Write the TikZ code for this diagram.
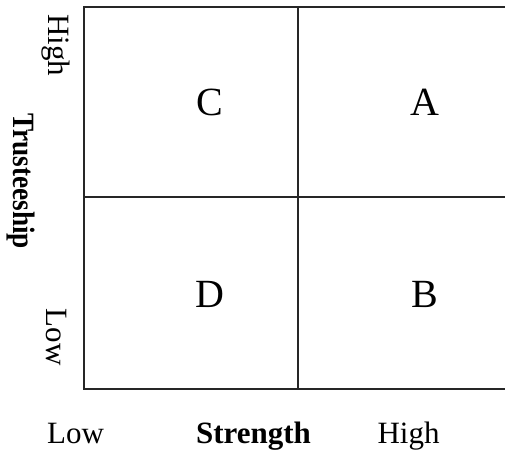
\documentclass[tikz,border=0pt]{standalone}
\usepackage{fontspec}
\setmainfont{Liberation Serif}
\begin{document}
\begin{tikzpicture}[x=1pt,y=-1pt,
  gridline/.style={line width=1.9pt,draw=black!85},
  quad/.style={font=\fontsize{40}{42}\selectfont,inner sep=0pt},
  axlab/.style={font=\fontsize{31}{33}\selectfont,inner sep=0pt,anchor=base},
  axtitle/.style={font=\fontsize{31}{33}\selectfont\bfseries,inner sep=0pt,anchor=base}]
\useasboundingbox (0,0) rectangle (505,454);
\clip (0,0) rectangle (505,454);
% grid
\draw[gridline] (84,7) rectangle (512,389);
\draw[gridline] (298,7) -- (298,389);
\draw[gridline] (84,197) -- (512,197);
% quadrant letters
\node[quad] (C) at (210,102) {C};
\node[quad] (A) at (425,102) {A};
\node[quad] (D) at (210,294) {D};
\node[quad] (B) at (425,294) {B};
% bottom axis
\node[axlab] (xlow) at (75.5,443) {Low};
\node[axtitle] (xtitle) at (253.5,443) {Strength};
\node[axlab] (xhigh) at (408.5,443) {High};
% left axis
\node[axlab,rotate=-90] (yhigh) at (48,45.5) {High};
\node[axlab,rotate=-90] (ylow) at (46,337) {Low};
\node[axtitle,rotate=-90,xscale=0.88] (ytitle) at (13,181) {Trusteeship};
\end{tikzpicture}
\end{document}
